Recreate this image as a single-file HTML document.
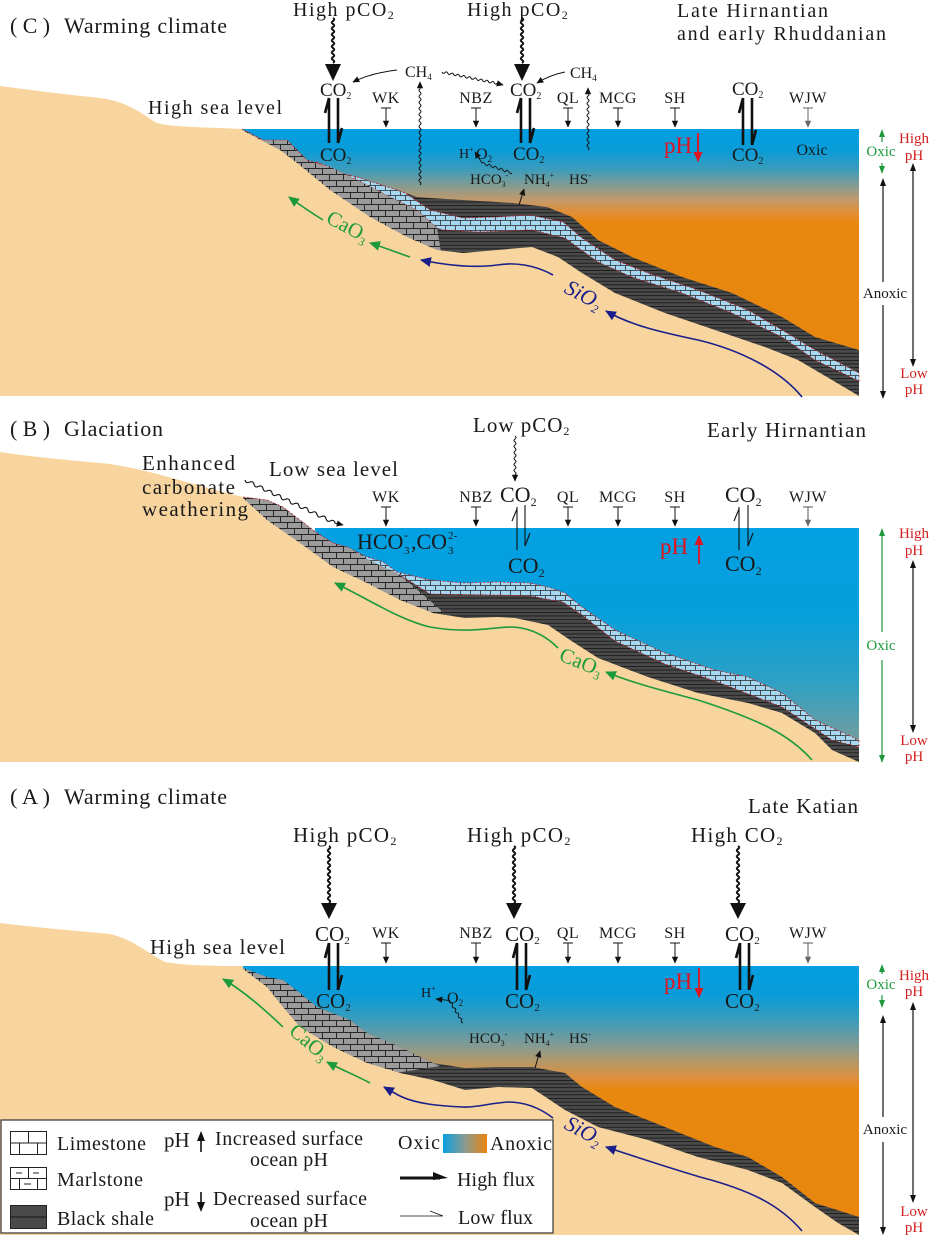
<!DOCTYPE html>
<html><head><meta charset="utf-8"><style>
html,body{margin:0;padding:0;background:#fff;}
svg{display:block;}
text{font-family:"Liberation Serif",serif;fill:#1a1a1a;}
</style></head><body>
<svg width="930" height="1235" viewBox="0 0 930 1235" xmlns="http://www.w3.org/2000/svg">
<defs>
<linearGradient id="seaC" gradientUnits="userSpaceOnUse" x1="0" y1="129" x2="0" y2="396">
<stop offset="0" stop-color="#029fe2"/><stop offset="0.08" stop-color="#0a9cd8"/><stop offset="0.15" stop-color="#3a9cbc"/><stop offset="0.22" stop-color="#8d9b8c"/><stop offset="0.27" stop-color="#c69a68"/><stop offset="0.31" stop-color="#e08f3a"/><stop offset="0.35" stop-color="#e8880f"/><stop offset="1" stop-color="#e8860e"/>
</linearGradient>
<linearGradient id="seaA" gradientUnits="userSpaceOnUse" x1="0" y1="966" x2="0" y2="1235">
<stop offset="0" stop-color="#029fe2"/><stop offset="0.11" stop-color="#0a9cd8"/><stop offset="0.2" stop-color="#3a9cbc"/><stop offset="0.29" stop-color="#7f9b96"/><stop offset="0.36" stop-color="#b89865"/><stop offset="0.42" stop-color="#e08f3a"/><stop offset="0.46" stop-color="#e8880f"/><stop offset="1" stop-color="#e8860e"/>
</linearGradient>
<linearGradient id="seaB" gradientUnits="userSpaceOnUse" x1="0" y1="528" x2="0" y2="762">
<stop offset="0" stop-color="#03a0e3"/><stop offset="0.35" stop-color="#04a0dc"/><stop offset="0.65" stop-color="#2ca0c6"/><stop offset="0.88" stop-color="#6a9ea2"/><stop offset="1" stop-color="#86a08a"/>
</linearGradient>
<linearGradient id="legG" x1="0" y1="0" x2="1" y2="0">
<stop offset="0" stop-color="#08a0e0"/><stop offset="0.5" stop-color="#8a9a90"/><stop offset="1" stop-color="#e8850f"/>
</linearGradient>
<pattern id="lime" width="14" height="12" patternUnits="userSpaceOnUse">
<rect width="14" height="12" fill="#9c9c9c"/>
<path d="M0,0.5H14M0,6.5H14M0.5,0V6.5M7.5,6.5V12" stroke="#262626" stroke-width="1" fill="none"/>
</pattern>
<pattern id="marl" width="10" height="10" patternUnits="userSpaceOnUse">
<rect width="10" height="10" fill="#a6d8f2"/>
<path d="M0,0.5H10M0,5.5H10M0.5,0V5.5M5.5,5.5V10" stroke="#2a2a2a" stroke-width="0.8" fill="none"/>
</pattern>
<pattern id="shale" width="10" height="3.6" patternUnits="userSpaceOnUse">
<rect width="10" height="3.6" fill="#4a4a4a"/>
<path d="M0,0.4H10" stroke="#151515" stroke-width="0.8"/>
</pattern>
<marker id="mk" viewBox="0 0 10 10" refX="9" refY="5" markerWidth="7" markerHeight="7" markerUnits="userSpaceOnUse" orient="auto"><path d="M0,0.5 L10,5 L0,9.5 Z" fill="#111"/></marker>
<marker id="mgy" viewBox="0 0 10 10" refX="9" refY="5" markerWidth="7" markerHeight="7" markerUnits="userSpaceOnUse" orient="auto"><path d="M0,0.5 L10,5 L0,9.5 Z" fill="#666"/></marker>
<marker id="mg" viewBox="0 0 10 10" refX="9" refY="5" markerWidth="11" markerHeight="11" markerUnits="userSpaceOnUse" orient="auto"><path d="M0,0.5 L10,5 L0,9.5 Z" fill="#1d9a3c"/></marker>
<marker id="mb" viewBox="0 0 10 10" refX="9" refY="5" markerWidth="11" markerHeight="11" markerUnits="userSpaceOnUse" orient="auto"><path d="M0,0.5 L10,5 L0,9.5 Z" fill="#1b1f8a"/></marker>
<marker id="mr" viewBox="0 0 10 10" refX="9" refY="5" markerWidth="10" markerHeight="10" markerUnits="userSpaceOnUse" orient="auto"><path d="M0,0.5 L10,5 L0,9.5 Z" fill="#e0141e"/></marker>
</defs>

<!-- ================= PANEL C ================= -->
<path d="M0,86 C30,90 70,95 100,98 C125,101 140,112 155,122 C165,127 200,127 242,129 L242,396 L0,396 Z" fill="#f8d59f"/>
<rect x="242" y="129" width="617" height="267" fill="url(#seaC)"/>
<path d="M242,129 L263,140 L287,140 L307,160 L323,165 L340,173 L357,177 L397,190 L417,197 L430,198 L463,200 L513,203 L547,207 L572,217 L598,240 L632,257 L682,277 L732,293 L782,317 L815,337 L859,350 L859,396 L242,396 Z" fill="url(#shale)"/>
<path d="M316,162 L323,165 L340,173 L357,177 L397,190 L405,193 L430,210 L463,218 L497,217 L530,215 L563,222 L582,238 L615,260 L648,273 L698,290 L748,310 L782,330 L815,350 L859,373 L859,381 L815,360 L782,337 L732,313 L682,293 L632,277 L598,262 L565,238 L532,230 L480,232 L443,230 L437,228 L417,210 L390,197 L363,183 L330,167 Z" fill="url(#marl)" stroke="#c8202a" stroke-width="0.8" stroke-dasharray="2,2"/>
<path d="M242,129 L263,140 L287,140 L307,160 L323,165 L330,167 L363,183 L390,197 L417,210 L437,228 L442,258 L242,258 Z" fill="url(#lime)"/>
<path d="M242,129 L263,140 L287,140 L307,160 L323,165" fill="none" stroke="#c8202a" stroke-width="0.8" stroke-dasharray="2,2"/>
<path d="M242,130 L280,150 L297,163 L330,190 L370,217 L407,237 L437,250 L463,253 L497,250 L532,247 L558,257 L582,273 L615,293 L665,313 L715,330 L765,347 L798,360 L832,380 L859,396 L242,396 Z" fill="#f8d59f"/>

<text x="10" y="33" font-size="22" textLength="40" lengthAdjust="spacingAndGlyphs">( C )</text>
<text x="64" y="33" font-size="22" textLength="163">Warming climate</text>
<text x="293" y="16" font-size="20" letter-spacing="1.5">High pCO<tspan font-size="12" dy="3">2</tspan></text>
<text x="467" y="16" font-size="20" letter-spacing="1.5">High pCO<tspan font-size="12" dy="3">2</tspan></text>
<text x="677" y="17" font-size="20" textLength="151">Late Hirnantian</text>
<text x="677" y="40" font-size="20" textLength="209">and early Rhuddanian</text>
<text x="148" y="114" font-size="20" textLength="134">High sea level</text>

<path d="M333,18 q2.5,1.5 0,3 t0,3 t0,3 t0,3 t0,3 t0,3 t0,3 t0,3 t0,3 t0,3 t0,3 t0,3 t0,3 t0,3 t0,3" fill="none" stroke="#111" stroke-width="2"/>
<polygon points="325,64 341,64 333,81" fill="#111"/>
<path d="M522,18 q2.5,1.5 0,3 t0,3 t0,3 t0,3 t0,3 t0,3 t0,3 t0,3 t0,3 t0,3 t0,3 t0,3 t0,3 t0,3 t0,3" fill="none" stroke="#111" stroke-width="2"/>
<polygon points="514,64 530,64 522,81" fill="#111"/>

<text x="320" y="96" font-size="19">CO<tspan font-size="10" dy="3">2</tspan></text>
<text x="510" y="96" font-size="19">CO<tspan font-size="10" dy="3">2</tspan></text>
<text x="732" y="95" font-size="19">CO<tspan font-size="10" dy="3">2</tspan></text>
<text x="320" y="161" font-size="19">CO<tspan font-size="10" dy="3">2</tspan></text>
<text x="513" y="160" font-size="19">CO<tspan font-size="10" dy="3">2</tspan></text>
<text x="732" y="161" font-size="19">CO<tspan font-size="10" dy="3">2</tspan></text>
<path d="M329,98 V143 M329,98 l-4,15 M338,98 V143 M338,143 l4,-15" stroke="#111" stroke-width="2.6" fill="none"/>
<path d="M521,98 V143 M521,98 l-4,15 M530,98 V143 M530,143 l4,-15" stroke="#111" stroke-width="2.6" fill="none"/>
<path d="M743,98 V145 M743,98 l-4,15 M752,98 V145 M752,145 l4,-15" stroke="#111" stroke-width="2.6" fill="none"/>

<text x="405" y="77" font-size="16">CH<tspan font-size="9" dy="3">4</tspan></text>
<text x="570" y="78" font-size="16">CH<tspan font-size="9" dy="3">4</tspan></text>
<path d="M397,70 C380,72 365,76 353,82" fill="none" stroke="#111" stroke-width="1" marker-end="url(#mk)"/>
<path d="M442,72 q1.1,2.3 2.9,0.6 t2.9,0.6 t2.9,0.6 t2.9,0.6 t2.9,0.6 t2.9,0.6 t2.9,0.6 t2.9,0.6 t2.9,0.6 t2.9,0.6 t2.9,0.6 t2.9,0.6 t2.9,0.6 t2.9,0.6 t2.9,0.6 t2.9,0.6 t2.9,0.6 t2.9,0.6 t2.9,0.6 L503,85" fill="none" stroke="#111" stroke-width="1" marker-end="url(#mk)"/>
<path d="M565,72 C555,74 545,78 537,83" fill="none" stroke="#111" stroke-width="1" marker-end="url(#mk)"/>
<path d="M420,185 q2,-1.5 0,-3 t0,-3 t0,-3 t0,-3 t0,-3 t0,-3 t0,-3 t0,-3 t0,-3 t0,-3 t0,-3 t0,-3 t0,-3 t0,-3 t0,-3 t0,-3 t0,-3 t0,-3 t0,-3 t0,-3 t0,-3 t0,-3 t0,-3 t0,-3 t0,-3 t0,-3 t0,-3 t0,-3 t0,-3 t0,-3 t0,-3 t0,-3 L420,82" fill="none" stroke="#111" stroke-width="1" marker-end="url(#mk)"/>
<path d="M588,150 q2,-1.5 0,-3 t0,-3 t0,-3 t0,-3 t0,-3 t0,-3 t0,-3 t0,-3 t0,-3 t0,-3 t0,-3 t0,-3 t0,-3 t0,-3 t0,-3 t0,-3 t0,-3 t0,-3 t0,-3 L588,88" fill="none" stroke="#111" stroke-width="1" marker-end="url(#mk)"/>

<g font-size="16" text-anchor="middle" letter-spacing="0.5">
<text x="386" y="103">WK</text><text x="476" y="103">NBZ</text><text x="568" y="103">QL</text><text x="618" y="103">MCG</text><text x="675" y="103">SH</text><text x="808" y="103">WJW</text>
</g>
<path d="M381,108 H391 M386,108 V127" stroke="#111" stroke-width="1" fill="none" marker-end="url(#mk)"/>
<path d="M471,108 H481 M476,108 V127" stroke="#111" stroke-width="1" fill="none" marker-end="url(#mk)"/>
<path d="M563,108 H573 M568,108 V127" stroke="#111" stroke-width="1" fill="none" marker-end="url(#mk)"/>
<path d="M613,108 H623 M618,108 V127" stroke="#111" stroke-width="1" fill="none" marker-end="url(#mk)"/>
<path d="M670,108 H680 M675,108 V127" stroke="#111" stroke-width="1" fill="none" marker-end="url(#mk)"/>
<path d="M803,108 H813 M808,108 V127" stroke="#666" stroke-width="1" fill="none" marker-end="url(#mgy)"/>

<text x="459" y="158" font-size="14">H<tspan font-size="8" dy="-6">+</tspan></text>
<text x="476" y="159" font-size="16">O<tspan font-size="9" dy="3">2</tspan></text>
<path d="M512,173 q-1,2 -3,-1 t-3,-1 t-3,-1 t-3,-1 t-3,-1 t-3,-1 t-3,-1 t-3,-1 t-3,-1 t-3,-1 L475,152" fill="none" stroke="#111" stroke-width="0.9" marker-end="url(#mk)"/>
<text x="470" y="184" font-size="15">HCO<tspan font-size="8" dy="3">3</tspan><tspan font-size="8" dy="-9">-</tspan></text>
<text x="524" y="184" font-size="15">NH<tspan font-size="8" dy="3">4</tspan><tspan font-size="8" dy="-9">+</tspan></text>
<text x="569" y="184" font-size="15">HS<tspan font-size="8" dy="-6">-</tspan></text>
<path d="M519,205 L524,189" stroke="#111" stroke-width="1" marker-end="url(#mk)"/>

<text x="664" y="153" font-size="23" style="fill:#e0141e">pH</text>
<path d="M698,133 V161" stroke="#e0141e" stroke-width="1.8" marker-end="url(#mr)"/>
<text x="812" y="155" font-size="16" text-anchor="middle">Oxic</text>

<path d="M410,257 C395,252 383,247 370,243" fill="none" stroke="#1d9a3c" stroke-width="1.6" marker-end="url(#mg)"/>
<path d="M323,220 C310,212 300,205 289,197" fill="none" stroke="#1d9a3c" stroke-width="1.6" marker-end="url(#mg)"/>
<text transform="translate(325,222) rotate(28)" font-size="21" style="fill:#1d9a3c">CaO<tspan font-size="12" dy="4">3</tspan></text>
<path d="M802,397 C780,370 740,350 698,340 C660,332 630,325 606,311" fill="none" stroke="#1b1f8a" stroke-width="1.6" marker-end="url(#mb)"/>
<path d="M553,275 C535,265 515,262 497,265 C475,268 450,266 421,260" fill="none" stroke="#1b1f8a" stroke-width="1.6" marker-end="url(#mb)"/>
<text transform="translate(563,292) rotate(28)" font-size="22" font-style="italic" style="fill:#1b1f8a">SiO<tspan font-size="12" dy="4">2</tspan></text>

<path d="M882,142 V133 M882,163 V171" stroke="#1d9a3c" stroke-width="1.2" fill="none"/>
<polygon points="882,129 879,137 885,137" fill="#1d9a3c"/><polygon points="882,174 879,166 885,166" fill="#1d9a3c"/>
<text x="881" y="156" font-size="15" text-anchor="middle" style="fill:#1d9a3c">Oxic</text>
<path d="M883,182 V282 M883,305 V396" stroke="#111" stroke-width="1.2"/>
<polygon points="883,178 880,186 886,186" fill="#111"/><polygon points="883,399 880,391 886,391" fill="#111"/>
<text x="885" y="298" font-size="15" text-anchor="middle">Anoxic</text>
<path d="M913,167 V363" stroke="#111" stroke-width="1.2"/>
<polygon points="913,163 910,171 916,171" fill="#111"/><polygon points="913,367 910,359 916,359" fill="#111"/>
<g font-size="15" text-anchor="middle">
<text x="914" y="143" style="fill:#d42020">High</text><text x="914" y="160" style="fill:#d42020">pH</text>
<text x="914" y="378" style="fill:#d42020">Low</text><text x="914" y="394" style="fill:#d42020">pH</text>
</g>

<!-- ================= PANEL B ================= -->
<path d="M0,452 C40,458 80,461 110,464 C150,470 190,484 243,497 L243,762 L0,762 Z" fill="#f8d59f"/>
<rect x="315" y="528" width="544" height="234" fill="url(#seaB)"/>
<path d="M243,497 L267,500 L283,507 L300,520 L317,533 L333,543 L350,548 L367,557 L383,562 L397,572 L430,580 L463,583 L497,582 L530,583 L548,587 L565,593 L582,607 L615,630 L665,653 L715,670 L748,677 L782,693 L815,720 L859,740 L859,762 L243,762 Z" fill="url(#shale)"/>
<path d="M350,549 L367,557 L383,562 L397,572 L430,580 L463,583 L497,582 L530,583 L548,587 L565,593 L582,607 L615,630 L665,653 L715,670 L748,677 L782,693 L815,720 L859,740 L859,747 L832,740 L782,707 L715,681 L665,664 L615,641 L582,615 L563,602 L530,596 L497,595 L430,594 L400,575 L365,559 Z" fill="url(#marl)" stroke="#c8202a" stroke-width="0.8" stroke-dasharray="2,2"/>
<path d="M243,497 L267,500 L283,507 L300,520 L317,533 L333,543 L350,548 L365,558 L400,575 L420,592 L443,612 L243,612 Z" fill="url(#lime)"/>
<path d="M243,497 L267,500 L283,507 L300,520 L317,533 L333,543 L350,548" fill="none" stroke="#c8202a" stroke-width="0.8" stroke-dasharray="2,2"/>
<path d="M243,498 L267,520 L300,543 L333,567 L367,583 L400,600 L433,613 L465,618 L498,617 L515,618 L548,625 L570,640 L598,658 L648,677 L698,693 L748,703 L782,713 L815,733 L832,750 L859,762 L243,762 Z" fill="#f8d59f"/>

<text x="10" y="436" font-size="22" textLength="40" lengthAdjust="spacingAndGlyphs">( B )</text>
<text x="64" y="436" font-size="22" textLength="99">Glaciation</text>
<text x="142" y="470" font-size="21" textLength="93">Enhanced</text>
<text x="142" y="494" font-size="21" textLength="93">carbonate</text>
<text x="142" y="516" font-size="21" textLength="106">weathering</text>
<text x="269" y="476" font-size="21" textLength="129">Low sea level</text>
<path d="M245,480 q0.95,3.8 4.5,2.15 t4.5,2.15 t4.5,2.15 t4.5,2.15 t4.5,2.15 t4.5,2.15 t4.5,2.15 t4.5,2.15 t4.5,2.15 t4.5,2.15 t4.5,2.15 t4.5,2.15 t4.5,2.15 t4.5,2.15 t4.5,2.15 t4.5,2.15 t4.5,2.15 t4.5,2.15 t4.5,2.15 t4.5,2.15 L343,525" fill="none" stroke="#111" stroke-width="1.1" marker-end="url(#mk)"/>
<text x="473" y="432" font-size="21" letter-spacing="1">Low pCO<tspan font-size="12" dy="3">2</tspan></text>
<text x="707" y="437" font-size="21" textLength="159">Early Hirnantian</text>
<path d="M515,436 q2,1.5 0,3 t0,3 t0,3 t0,3 t0,3 t0,3 t0,3 t0,3 t0,3 t0,3 t0,3 t0,3 t0,3 L515,481" fill="none" stroke="#111" stroke-width="1" marker-end="url(#mk)"/>

<text x="500" y="502" font-size="22">CO<tspan font-size="12" dy="4">2</tspan></text>
<text x="725" y="502" font-size="22">CO<tspan font-size="12" dy="4">2</tspan></text>
<text x="508" y="573" font-size="22">CO<tspan font-size="12" dy="4">2</tspan></text>
<text x="725" y="571" font-size="22">CO<tspan font-size="12" dy="4">2</tspan></text>
<path d="M517,507 V550 M517,509 l-5,12 M525,505 V546 M525,546 l5,-13" stroke="#111" stroke-width="1.1" fill="none"/>
<path d="M739,507 V550 M739,509 l-5,12 M748,505 V546 M748,546 l5,-13" stroke="#111" stroke-width="1.1" fill="none"/>

<g font-size="16" text-anchor="middle" letter-spacing="0.5">
<text x="386" y="502">WK</text><text x="476" y="502">NBZ</text><text x="568" y="502">QL</text><text x="618" y="502">MCG</text><text x="675" y="502">SH</text><text x="808" y="502">WJW</text>
</g>
<path d="M381,507 H391 M386,507 V526" stroke="#111" stroke-width="1" fill="none" marker-end="url(#mk)"/>
<path d="M471,507 H481 M476,507 V526" stroke="#111" stroke-width="1" fill="none" marker-end="url(#mk)"/>
<path d="M563,507 H573 M568,507 V526" stroke="#111" stroke-width="1" fill="none" marker-end="url(#mk)"/>
<path d="M613,507 H623 M618,507 V526" stroke="#111" stroke-width="1" fill="none" marker-end="url(#mk)"/>
<path d="M670,507 H680 M675,507 V526" stroke="#111" stroke-width="1" fill="none" marker-end="url(#mk)"/>
<path d="M803,507 H813 M808,507 V526" stroke="#555" stroke-width="1" fill="none" marker-end="url(#mgy)"/>

<text x="357" y="549" font-size="22">HCO</text>
<text x="404" y="554" font-size="11">3</text>
<text x="404" y="539" font-size="12">-</text>
<text x="411" y="549" font-size="22">,CO</text>
<text x="448" y="554" font-size="11">3</text>
<text x="448" y="539" font-size="11">2-</text>

<text x="660" y="554" font-size="23" style="fill:#e0141e">pH</text>
<path d="M699,564 V536" stroke="#e0141e" stroke-width="1.8" marker-end="url(#mr)"/>

<path d="M812,760 C790,735 760,720 698,700 C660,690 630,682 606,672" fill="none" stroke="#1d9a3c" stroke-width="1.6" marker-end="url(#mg)"/>
<path d="M558,648 C545,635 530,628 513,627 C490,627 470,634 430,627 C400,620 370,600 335,583" fill="none" stroke="#1d9a3c" stroke-width="1.6" marker-end="url(#mg)"/>
<text transform="translate(558,660) rotate(22)" font-size="21" style="fill:#1d9a3c">CaO<tspan font-size="12" dy="4">3</tspan></text>

<path d="M882,532 V632 M882,660 V758" stroke="#1d9a3c" stroke-width="1.2" fill="none"/>
<polygon points="882,528 879,536 885,536" fill="#1d9a3c"/><polygon points="882,763 879,755 885,755" fill="#1d9a3c"/>
<text x="881" y="650" font-size="15" text-anchor="middle" style="fill:#1d9a3c">Oxic</text>
<path d="M913,564 V729" stroke="#111" stroke-width="1.2"/>
<polygon points="913,560 910,568 916,568" fill="#111"/><polygon points="913,733 910,725 916,725" fill="#111"/>
<g font-size="15" text-anchor="middle">
<text x="914" y="538" style="fill:#d42020">High</text><text x="914" y="555" style="fill:#d42020">pH</text>
<text x="914" y="745" style="fill:#d42020">Low</text><text x="914" y="761" style="fill:#d42020">pH</text>
</g>

<!-- ================= PANEL A ================= -->
<path d="M0,923 C40,928 80,931 110,934 C135,940 150,955 165,962 C190,966 220,966 243,966 L243,1235 L0,1235 Z" fill="#f8d59f"/>
<rect x="243" y="966" width="616" height="269" fill="url(#seaA)"/>
<path d="M243,968 L267,977 L283,980 L300,993 L317,1007 L350,1020 L367,1033 L400,1047 L433,1063 L465,1068 L498,1067 L532,1067 L565,1073 L582,1087 L615,1107 L665,1127 L715,1147 L748,1157 L782,1177 L815,1203 L859,1217 L859,1235 L243,1235 Z" fill="url(#shale)"/>
<path d="M243,968 L267,977 L283,980 L300,993 L317,1007 L350,1020 L367,1033 L400,1047 L433,1063 L440,1066 L395,1073 L380,1080 L243,1080 Z" fill="url(#lime)"/>
<path d="M243,969 L267,987 L283,1007 L300,1027 L333,1047 L367,1063 L400,1073 L433,1080 L465,1090 L498,1087 L532,1088 L565,1110 L598,1127 L648,1140 L698,1157 L748,1170 L782,1183 L815,1207 L838,1223 L859,1235 L243,1235 Z" fill="#f8d59f"/>

<text x="10" y="804" font-size="22" textLength="40" lengthAdjust="spacingAndGlyphs">( A )</text>
<text x="64" y="804" font-size="22" textLength="163">Warming climate</text>
<text x="293" y="842" font-size="21" letter-spacing="1.3">High pCO<tspan font-size="12" dy="3">2</tspan></text>
<text x="467" y="842" font-size="21" letter-spacing="1.3">High pCO<tspan font-size="12" dy="3">2</tspan></text>
<text x="691" y="842" font-size="21" letter-spacing="1.3">High CO<tspan font-size="12" dy="3">2</tspan></text>
<text x="748" y="813" font-size="21" textLength="110">Late Katian</text>
<text x="150" y="954" font-size="21" textLength="135">High sea level</text>

<path d="M329,846 q2.5,1.5 0,3 t0,3 t0,3 t0,3 t0,3 t0,3 t0,3 t0,3 t0,3 t0,3 t0,3 t0,3 t0,3 t0,3 t0,3 t0,3 t0,3 t0,3 t0,3" fill="none" stroke="#111" stroke-width="2"/>
<polygon points="321,903 337,903 329,919" fill="#111"/>
<path d="M514,846 q2.5,1.5 0,3 t0,3 t0,3 t0,3 t0,3 t0,3 t0,3 t0,3 t0,3 t0,3 t0,3 t0,3 t0,3 t0,3 t0,3 t0,3 t0,3 t0,3 t0,3" fill="none" stroke="#111" stroke-width="2"/>
<polygon points="506,903 522,903 514,919" fill="#111"/>
<path d="M738,846 q2.5,1.5 0,3 t0,3 t0,3 t0,3 t0,3 t0,3 t0,3 t0,3 t0,3 t0,3 t0,3 t0,3 t0,3 t0,3 t0,3 t0,3 t0,3 t0,3 t0,3" fill="none" stroke="#111" stroke-width="2"/>
<polygon points="730,903 746,903 738,919" fill="#111"/>

<text x="315" y="941" font-size="21">CO<tspan font-size="11" dy="3">2</tspan></text>
<text x="505" y="941" font-size="21">CO<tspan font-size="11" dy="3">2</tspan></text>
<text x="725" y="941" font-size="21">CO<tspan font-size="11" dy="3">2</tspan></text>
<text x="316" y="1008" font-size="21">CO<tspan font-size="11" dy="3">2</tspan></text>
<text x="505" y="1008" font-size="21">CO<tspan font-size="11" dy="3">2</tspan></text>
<text x="725" y="1008" font-size="21">CO<tspan font-size="11" dy="3">2</tspan></text>
<path d="M329,943 V990 M329,943 l-4,15 M338,943 V990 M338,990 l4,-15" stroke="#111" stroke-width="2.6" fill="none"/>
<path d="M517,943 V990 M517,943 l-4,15 M526,943 V990 M526,990 l4,-15" stroke="#111" stroke-width="2.6" fill="none"/>
<path d="M740,943 V990 M740,943 l-4,15 M749,943 V990 M749,990 l4,-15" stroke="#111" stroke-width="2.6" fill="none"/>

<g font-size="16" text-anchor="middle" letter-spacing="0.5">
<text x="386" y="938">WK</text><text x="476" y="938">NBZ</text><text x="568" y="938">QL</text><text x="618" y="938">MCG</text><text x="675" y="938">SH</text><text x="808" y="938">WJW</text>
</g>
<path d="M381,943 H391 M386,943 V963" stroke="#111" stroke-width="1" fill="none" marker-end="url(#mk)"/>
<path d="M471,943 H481 M476,943 V963" stroke="#111" stroke-width="1" fill="none" marker-end="url(#mk)"/>
<path d="M563,943 H573 M568,943 V963" stroke="#111" stroke-width="1" fill="none" marker-end="url(#mk)"/>
<path d="M613,943 H623 M618,943 V963" stroke="#111" stroke-width="1" fill="none" marker-end="url(#mk)"/>
<path d="M670,943 H680 M675,943 V963" stroke="#111" stroke-width="1" fill="none" marker-end="url(#mk)"/>
<path d="M803,943 H813 M808,943 V963" stroke="#555" stroke-width="1" fill="none" marker-end="url(#mgy)"/>

<text x="421" y="997" font-size="14">H<tspan font-size="8" dy="-6">+</tspan></text>
<text x="447" y="1003" font-size="16">O<tspan font-size="9" dy="3">2</tspan></text>
<path d="M463,1023 q-2.5,-0.5 -1.5,-2.5 t-1.5,-2.5 t-1.5,-2.5 t-1.5,-2.5 t-1.5,-2.5 t-1.5,-2.5 t-1.5,-2.5 t-1.5,-2.5 t-1.5,-2.5 L436,999" fill="none" stroke="#111" stroke-width="0.9" marker-end="url(#mk)"/>
<text x="469" y="1043" font-size="15">HCO<tspan font-size="8" dy="3">3</tspan><tspan font-size="8" dy="-9">-</tspan></text>
<text x="524" y="1043" font-size="15">NH<tspan font-size="8" dy="3">4</tspan><tspan font-size="8" dy="-9">+</tspan></text>
<text x="569" y="1043" font-size="15">HS<tspan font-size="8" dy="-6">-</tspan></text>
<path d="M535,1068 L540,1051" stroke="#111" stroke-width="1" marker-end="url(#mk)"/>

<text x="664" y="989" font-size="23" style="fill:#e0141e">pH</text>
<path d="M699,968 V997" stroke="#e0141e" stroke-width="1.8" marker-end="url(#mr)"/>

<path d="M370,1083 C355,1075 340,1069 327,1062" fill="none" stroke="#1d9a3c" stroke-width="1.6" marker-end="url(#mg)"/>
<path d="M283,1027 C265,1010 245,992 223,979" fill="none" stroke="#1d9a3c" stroke-width="1.6" marker-end="url(#mg)"/>
<text transform="translate(288,1033) rotate(40)" font-size="21" style="fill:#1d9a3c">CaO<tspan font-size="12" dy="4">3</tspan></text>
<path d="M802,1231 C780,1205 750,1190 700,1177 C660,1165 630,1155 606,1147" fill="none" stroke="#1b1f8a" stroke-width="1.6" marker-end="url(#mb)"/>
<path d="M553,1118 C540,1108 525,1102 508,1102 C490,1103 475,1108 463,1107 C440,1106 415,1104 398,1095 L384,1087" fill="none" stroke="#1b1f8a" stroke-width="1.6" marker-end="url(#mb)"/>
<text transform="translate(563,1128) rotate(28)" font-size="22" font-style="italic" style="fill:#1b1f8a">SiO<tspan font-size="12" dy="4">2</tspan></text>

<path d="M882,969 V974 M882,995 V1004" stroke="#1d9a3c" stroke-width="1.2" fill="none"/>
<polygon points="882,964 879,972 885,972" fill="#1d9a3c"/><polygon points="882,1008 879,1000 885,1000" fill="#1d9a3c"/>
<text x="881" y="989" font-size="15" text-anchor="middle" style="fill:#1d9a3c">Oxic</text>
<path d="M883,1019 V1117 M883,1142 V1231" stroke="#111" stroke-width="1.2"/>
<polygon points="883,1015 880,1023 886,1023" fill="#111"/><polygon points="883,1235 880,1227 886,1227" fill="#111"/>
<text x="885" y="1134" font-size="15" text-anchor="middle">Anoxic</text>
<path d="M913,1006 V1199" stroke="#111" stroke-width="1.2"/>
<polygon points="913,1002 910,1010 916,1010" fill="#111"/><polygon points="913,1203 910,1195 916,1195" fill="#111"/>
<g font-size="15" text-anchor="middle">
<text x="914" y="980" style="fill:#d42020">High</text><text x="914" y="996" style="fill:#d42020">pH</text>
<text x="914" y="1216" style="fill:#d42020">Low</text><text x="914" y="1232" style="fill:#d42020">pH</text>
</g>

<!-- ================= LEGEND ================= -->
<rect x="1" y="1120" width="552" height="113" fill="#fff" stroke="#333" stroke-width="1.2"/>
<rect x="10.5" y="1131.5" width="36" height="23" fill="#fff" stroke="#222" stroke-width="1"/>
<path d="M10.5,1143 H46.5 M28.5,1131.5 V1143 M19.5,1143 V1154.5 M37.5,1143 V1154.5" stroke="#222" stroke-width="1"/>
<rect x="10.5" y="1167.5" width="36" height="22" fill="#fff" stroke="#222" stroke-width="1"/>
<path d="M10.5,1178.5 H46.5 M28.5,1167.5 V1178.5 M19.5,1178.5 V1189.5 M37.5,1178.5 V1189.5 M16,1173 H22 M33,1173 H39 M24,1184 H31" stroke="#222" stroke-width="1"/>
<rect x="10.5" y="1205.5" width="36" height="23" fill="#4a4a4a" stroke="#222" stroke-width="1"/>
<path d="M10.5,1217 H46.5" stroke="#151515" stroke-width="1"/>
<text x="57" y="1150" font-size="20" textLength="89">Limestone</text>
<text x="57" y="1186" font-size="20" textLength="86">Marlstone</text>
<text x="57" y="1225" font-size="20" textLength="97">Black shale</text>
<text x="164" y="1147" font-size="21">pH</text>
<path d="M201,1152 V1138" stroke="#111" stroke-width="1.6"/><polygon points="201,1131 197,1141 205,1141" fill="#111"/>
<text x="215" y="1145" font-size="20" textLength="148">Increased surface</text>
<text x="250" y="1166" font-size="20" textLength="78">ocean pH</text>
<text x="164" y="1206" font-size="21">pH</text>
<path d="M201,1192 V1205" stroke="#111" stroke-width="1.6"/><polygon points="201,1212 197,1202 205,1202" fill="#111"/>
<text x="213" y="1205" font-size="20" textLength="154">Decreased surface</text>
<text x="250" y="1227" font-size="20" textLength="78">ocean pH</text>
<text x="398" y="1149" font-size="20" textLength="42">Oxic</text>
<rect x="443" y="1134" width="44" height="19" fill="url(#legG)"/>
<text x="490" y="1150" font-size="20" textLength="62">Anoxic</text>
<path d="M400,1178 H440" stroke="#111" stroke-width="3"/><polygon points="433,1172 448,1178 433,1180" fill="#111"/>
<text x="457" y="1186" font-size="20" textLength="78">High flux</text>
<path d="M400,1216 H443 M430,1211 L443,1216" stroke="#111" stroke-width="0.8" fill="none"/>
<text x="458" y="1224" font-size="20" textLength="75">Low flux</text>
</svg>
</body></html>
